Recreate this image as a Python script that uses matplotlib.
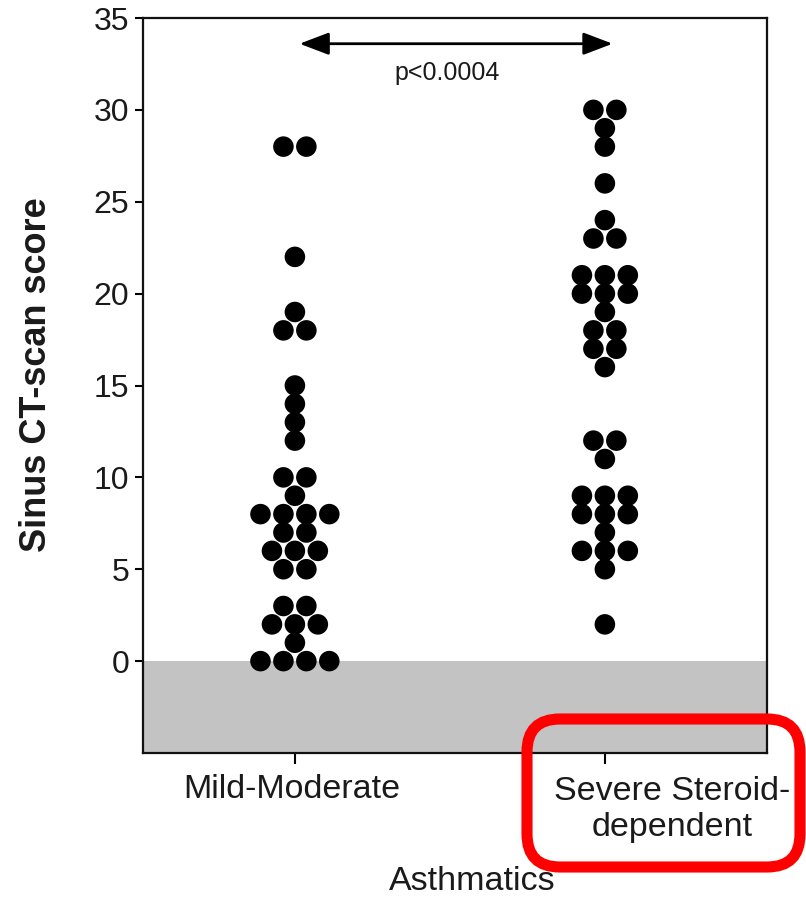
import numpy as np
import matplotlib

matplotlib.use("Agg")
import matplotlib.pyplot as plt
from matplotlib.patches import FancyBboxPatch
from collections import Counter

plt.rcParams["font.family"] = ["Liberation Sans", "DejaVu Sans"]

# data (one entry per patient)
groups = ["Mild-Moderate", "Severe Steroid-\ndependent"]
mild_moderate = [0, 0, 0, 0, 1, 2, 2, 2, 3, 3, 5, 5, 6, 6, 6, 7, 7,
                 8, 8, 8, 8, 9, 10, 10, 12, 13, 14, 15, 18, 18, 19, 22, 28, 28]
severe = [2, 5, 6, 6, 6, 7, 8, 8, 8, 9, 9, 9, 11, 12, 12, 16, 17, 17,
          18, 18, 19, 20, 20, 20, 21, 21, 21, 23, 23, 24, 26, 28, 29, 30, 30]
yticks = [0, 5, 10, 15, 20, 25, 30, 35]
p_label = "p<0.0004"
ylabel = "Sinus CT-scan score"
xlabel = "Asthmatics"


def swarm(center, values, step):
    # rows of equal scores, centred on the group position
    xs, ys = [], []
    for value, n in sorted(Counter(values).items()):
        offsets = (np.arange(n) - (n - 1) / 2) * step
        xs.extend(center + offsets)
        ys.extend([value] * n)
    return np.array(xs), np.array(ys)


W, H = 806, 898
fig = plt.figure(figsize=(W / 100, H / 100), dpi=100)
ax = fig.add_axes([143 / W, 1 - 753 / H, 624 / W, 735 / H])

ax.set_xlim(-0.49, 1.523)
ax.set_ylim(-5, 35)
ax.axhspan(-5, 0, color="#c3c3c3", lw=0, zorder=0)

step = 0.074
for i, vals in enumerate([mild_moderate, severe]):
    x, y = swarm(i, vals, step)
    ax.scatter(x, y, s=14.8 ** 2, color="black", edgecolors="none", zorder=3)

# significance arrow
ax.annotate("", xy=(1.025, 33.6), xytext=(0.015, 33.6),
            arrowprops=dict(arrowstyle="<|-|>,head_length=1.0,head_width=0.38",
                            mutation_scale=18, lw=2, color="black",
                            shrinkA=0, shrinkB=0))
ax.text(0.49, 32.0, p_label, ha="center", va="center", fontsize=18, color="#1a1a1a")

# axes styling
for sp in ax.spines.values():
    sp.set_linewidth(1.6)
    sp.set_color("#111111")
ax.set_yticks(yticks)
ax.set_yticklabels([str(t) for t in yticks], fontsize=23, color="#1a1a1a")
ax.tick_params(axis="y", direction="out", length=6, width=1.5, pad=4)
ax.set_xticks([0, 1])
ax.set_xticklabels(["", ""])
ax.tick_params(axis="x", direction="out", length=8, width=1.5)

trans = ax.get_xaxis_transform()
ax.text(-0.01, -0.029, groups[0], transform=trans, ha="center", va="top",
        fontsize=24.5, color="#1a1a1a")
ax.text(1.216, -0.031, groups[1], transform=trans, ha="center", va="top",
        fontsize=24.5, color="#1a1a1a", linespacing=1.22)

fig.text(37 / W, 1 - 375 / H, ylabel, rotation=90, ha="center", va="center",
         fontsize=26, fontweight="bold", color="#1a1a1a")
fig.text(472 / W, 1 - 881 / H, xlabel, ha="center", va="center",
         fontsize=24.5, color="#1a1a1a")

# red highlight box round the second group label
box = FancyBboxPatch((5.27, 0.31), 2.73, 1.48,
                     boxstyle="round,pad=0,rounding_size=0.33",
                     transform=fig.dpi_scale_trans, fill=False,
                     ec="#ff0000", lw=8, clip_on=False)
fig.add_artist(box)

fig.savefig("out.png", dpi=100)
